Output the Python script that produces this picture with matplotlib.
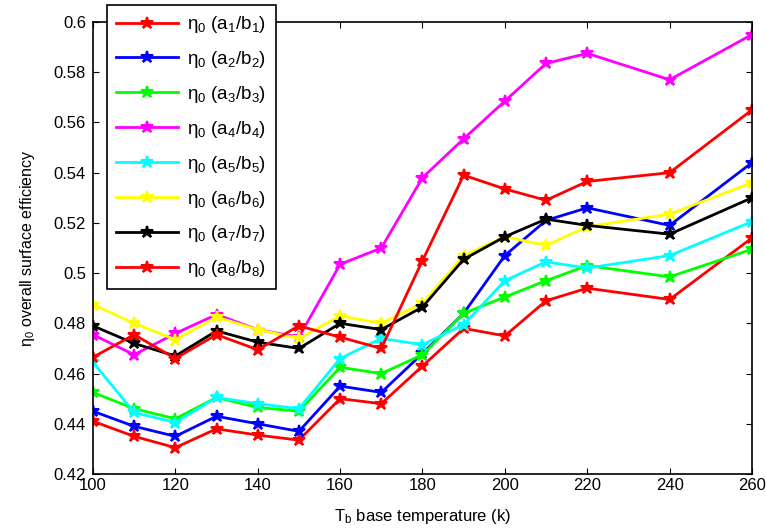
import numpy as np
import matplotlib
matplotlib.use('Agg')
import matplotlib.pyplot as plt

plt.rcParams['font.family'] = ['Liberation Sans', 'DejaVu Sans']
plt.rcParams['mathtext.fontset'] = 'custom'
plt.rcParams['mathtext.rm'] = 'Liberation Sans'
plt.rcParams['mathtext.it'] = 'Liberation Sans:italic'

# base temperature [k]
T_b = [100, 110, 120, 130, 140, 150, 160, 170, 180, 190, 200, 210, 220, 240, 260]

# overall surface efficiency for each a/b case
eta_1 = [0.441, 0.435, 0.4305, 0.438, 0.4355, 0.4335, 0.450, 0.448, 0.463, 0.478, 0.475, 0.489, 0.494, 0.4895, 0.514]
eta_2 = [0.445, 0.439, 0.435, 0.443, 0.440, 0.437, 0.455, 0.4525, 0.468, 0.484, 0.507, 0.521, 0.526, 0.519, 0.544]
eta_3 = [0.4525, 0.446, 0.442, 0.4505, 0.4465, 0.445, 0.4625, 0.460, 0.4675, 0.484, 0.4905, 0.497, 0.503, 0.4985, 0.5095]
eta_4 = [0.4755, 0.4675, 0.476, 0.4835, 0.4775, 0.4745, 0.5035, 0.510, 0.538, 0.5535, 0.5685, 0.5835, 0.5875, 0.577, 0.595]
eta_5 = [0.4645, 0.4445, 0.4405, 0.4505, 0.448, 0.446, 0.466, 0.474, 0.4715, 0.4795, 0.497, 0.5045, 0.502, 0.507, 0.5205]
eta_6 = [0.4875, 0.480, 0.4735, 0.4825, 0.4775, 0.474, 0.483, 0.480, 0.488, 0.507, 0.5145, 0.511, 0.5185, 0.5235, 0.536]
eta_7 = [0.479, 0.472, 0.467, 0.477, 0.4725, 0.470, 0.480, 0.4775, 0.4865, 0.5055, 0.5145, 0.5215, 0.519, 0.5155, 0.530]
eta_8 = [0.4665, 0.4755, 0.466, 0.4755, 0.4695, 0.479, 0.4745, 0.470, 0.505, 0.539, 0.5335, 0.529, 0.5365, 0.540, 0.565]

series = [eta_1, eta_2, eta_3, eta_4, eta_5, eta_6, eta_7, eta_8]
colors = ['#ff0000', '#0000ff', '#00ff00', '#ff00ff', '#00ffff', '#ffff00', '#000000', '#ff0000']

fig = plt.figure(figsize=(7.66, 5.31), dpi=100)
ax = fig.add_axes([0.1214, 0.1073, 0.8603, 0.8513])

for i, (eta, c) in enumerate(zip(series, colors)):
    ax.plot(T_b, eta, '-*', color=c, lw=2, ms=9, mew=1.5,
            label=r'$\mathregular{\eta_0\ (a_%d/b_%d)}$' % (i + 1, i + 1))

ax.set_xlim(100, 260)
ax.set_ylim(0.42, 0.6)
ax.set_xticks(np.arange(100, 261, 20))
ax.set_yticks(np.arange(0.42, 0.601, 0.02))
ax.set_yticklabels(['0.42', '0.44', '0.46', '0.48', '0.5', '0.52', '0.54', '0.56', '0.58', '0.6'])
ax.tick_params(direction='in', top=True, right=True, labelsize=12, length=4)
ax.tick_params(axis='x', pad=3)
ax.tick_params(axis='y', pad=5)
for s in ax.spines.values():
    s.set_linewidth(1.2)

ax.set_xlabel(r'$\mathregular{T_b}$ base temperature (k)', fontsize=12, labelpad=10)
ax.set_ylabel(r'$\mathregular{\eta_0}$ overall surface efficiency', fontsize=11.5, labelpad=12)

leg = ax.legend(loc='upper left', bbox_to_anchor=(0.021, 1.038), borderaxespad=0,
                fontsize=13.5, handlelength=3.3, labelspacing=0.74, fancybox=False,
                framealpha=1, edgecolor='black', borderpad=0.5, handletextpad=0.5)
leg.get_frame().set_linewidth(1.2)

fig.savefig('out.png', dpi=100)
